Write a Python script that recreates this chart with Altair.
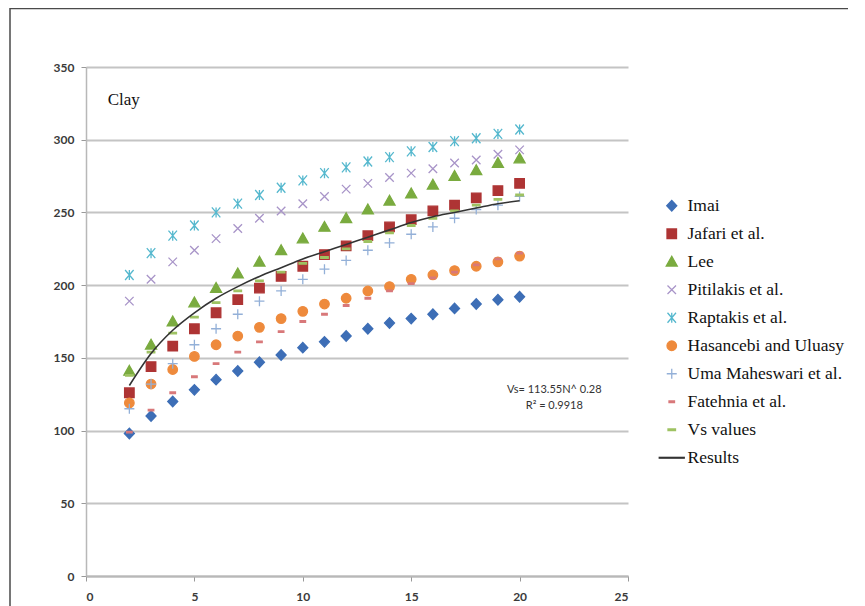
import altair as alt
import pandas as pd

N = list(range(2, 21))
imai = [98, 110, 120, 128, 135, 141, 147, 152, 157, 161, 165, 170, 174, 177, 180, 184, 187, 190, 192]
jafari = [126, 144, 158, 170, 181, 190, 198, 206, 213, 221, 227, 234, 240, 245, 251, 255, 260, 265, 270]
lee = [141, 159, 175, 188, 198, 208, 216, 224, 232, 240, 246, 252, 258, 263, 269, 275, 279, 284, 287]
pitilakis = [189, 204, 216, 224, 232, 239, 246, 251, 256, 261, 266, 270, 274, 277, 280, 284, 286, 290, 293]
raptakis = [207, 222, 234, 241, 250, 256, 262, 267, 272, 277, 281, 285, 288, 292, 295, 299, 301, 304, 307]
hasancebi = [119, 132, 142, 151, 159, 165, 171, 177, 182, 187, 191, 196, 199, 204, 207, 210, 213, 216, 220]
uma = [115, 132, 146, 159, 170, 180, 189, 196, 204, 211, 217, 224, 229, 235, 240, 246, 252, 255, 261]
fatehnia = [99, 114, 126, 137, 146, 154, 161, 168, 175, 180, 186, 191, 196, 201, 205, 209, 214, 218, 222]
vs_values = [138, 154, 167, 178, 188, 196, 203, 209, 215, 219, 225, 230, 236, 241, 246, 251, 255, 259, 262]
results = [131, 153, 169, 181, 191, 199, 206, 212, 218, 223, 228, 233, 238, 243, 247, 250, 253, 256, 258]

series = ["Imai", "Jafari et al.", "Lee", "Pitilakis et al.", "Raptakis et al.",
          "Hasancebi and Uluasy", "Uma Maheswari et al.", "Fatehnia et al.", "Vs values"]
series_values = [imai, jafari, lee, pitilakis, raptakis, hasancebi, uma, fatehnia, vs_values]
legend_order = series + ["Results"]

stroke_colors = ["#3D6EB6", "#AE3434", "#7AAB3F", "#A894C8", "#55B8CE",
                 "#EE8A3C", "#93B0D8", "#D8787A", "#9EC262", "#333333"]
fill_colors = ["#3D6EB6", "#AE3434", "#7AAB3F", "transparent", "transparent",
               "#EE8A3C", "transparent", "#D8787A", "#9EC262", "#333333"]
shape_paths = [
    "M0,-1.05L1,0L0,1.05L-1,0Z",
    "M-0.95,-0.95H0.95V0.95H-0.95Z",
    "M0,-1.1L1.1,0.85L-1.1,0.85Z",
    "M-0.85,-0.85L0.85,0.85M-0.85,0.85L0.85,-0.85",
    "M-0.85,-1L0.85,1M-0.85,1L0.85,-1M0,-1L0,1",
    "M0.95,0A0.95,0.95,0,1,1,-0.95,0A0.95,0.95,0,1,1,0.95,0Z",
    "M-1,0L1,0M0,-1L0,1",
    "M-0.55,-0.15H0.55V0.15H-0.55Z",
    "M-0.75,-0.15H0.75V0.15H-0.75Z",
    "M-2.5,-0.08H2.5V0.08H-2.5Z",
]

rows = []
for name, vals in zip(series, series_values):
    for n, v in zip(N, vals):
        rows.append({"N": n, "Vs": v, "series": name})
df = pd.DataFrame(rows)
df_res = pd.DataFrame({"N": N, "Vs": results})

x_enc = alt.X("N:Q", scale=alt.Scale(domain=[0, 25], nice=False),
              axis=alt.Axis(values=[0, 5, 10, 15, 20, 25], title=None, grid=False,
                            tickSize=5, labelPadding=10, domainWidth=2,
                            domainColor="#b8b8b8", tickColor="#999999"))
y_enc = alt.Y("Vs:Q", scale=alt.Scale(domain=[0, 350], nice=False),
              axis=alt.Axis(values=list(range(0, 351, 50)), title=None, grid=True,
                            tickSize=5, labelPadding=7, domainWidth=1.5,
                            domainColor="#b8b8b8", tickColor="#999999",
                            gridColor="#c4c4c4", gridWidth=2))

leg = alt.Legend(title=None, orient="none", legendX=577, legendY=130,
                 labelFont="Liberation Serif", labelFontSize=17.5, labelColor="#111111",
                 symbolSize=100, symbolStrokeWidth=1.3, rowPadding=9, labelOffset=7,
                 labelLimit=300, padding=0)

frame = alt.Chart(pd.DataFrame({"a": [0]})).mark_rect(
    fillOpacity=0, stroke="#4a4a4a", strokeWidth=1.5
).encode(x=alt.value(-76), x2=alt.value(880), y=alt.value(-58.5), y2=alt.value(700))

points = alt.Chart(df).mark_point(filled=False, size=100, strokeWidth=1.3, opacity=1).encode(
    x=x_enc, y=y_enc,
    shape=alt.Shape("series:N", scale=alt.Scale(domain=legend_order, range=shape_paths), legend=leg),
    fill=alt.Fill("series:N", scale=alt.Scale(domain=legend_order, range=fill_colors), legend=leg),
    stroke=alt.Stroke("series:N", scale=alt.Scale(domain=legend_order, range=stroke_colors), legend=leg),
)

line = alt.Chart(df_res).mark_line(color="#333333", strokeWidth=1.6, interpolate="monotone").encode(
    x="N:Q", y="Vs:Q"
)

ann = pd.DataFrame({"N": [21.6, 21.6], "Vs": [128, 117],
                    "label": ["Vs= 113.55N^ 0.28", "R² = 0.9918"]})
ann_text = alt.Chart(ann).mark_text(font="Lato", fontSize=11, color="#333333",
                                    align="center", baseline="middle").encode(
    x="N:Q", y="Vs:Q", text="label:N")

clay = pd.DataFrame({"N": [1.0], "Vs": [327], "label": ["Clay"]})
clay_text = alt.Chart(clay).mark_text(font="Liberation Serif", fontSize=17, color="#111111",
                                      align="left", baseline="middle").encode(
    x="N:Q", y="Vs:Q", text="label:N")

chart = alt.layer(frame, points, line, ann_text, clay_text).properties(
    width=542, height=509,
    autosize=alt.AutoSizeParams(type="none"),
    padding={"left": 78, "top": 59, "right": 220, "bottom": 30},
).configure_view(stroke=None).configure_axis(
    labelFont="Lato", labelFontSize=12, labelFontWeight="bold", labelColor="#3a3a3a"
)

chart.save("out.html", embed_options={"renderer": "svg", "actions": False})
